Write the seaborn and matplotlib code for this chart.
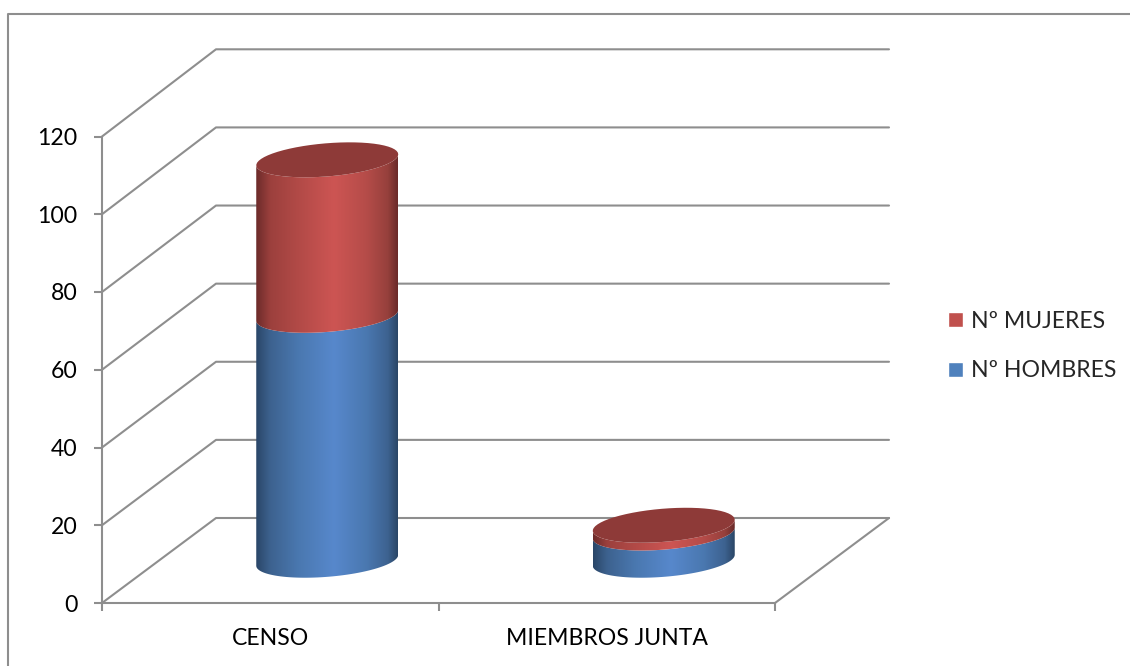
import numpy as np
import pandas as pd
import matplotlib
matplotlib.use("Agg")
import matplotlib.pyplot as plt
from matplotlib.colors import LinearSegmentedColormap
from matplotlib.lines import Line2D
from matplotlib.patches import Patch, PathPatch
from matplotlib.path import Path
import seaborn as sns

categorias = ["CENSO", "MIEMBROS JUNTA"]
hombres = [63, 7]
mujeres = [40, 2]
y_ticks = [0, 20, 40, 60, 80, 100, 120]

sns.set_theme(style="white")
plt.rcParams["font.family"] = ["Lato", "DejaVu Sans"]

GRIS = "#8e8e8e"
ROJO = "#c0504d"
AZUL = "#4f81bd"
TAPA = "#8e3a38"
LW = 1.5
FS = 16.6

# profundidad del falso 3D, en unidades de datos
PX_Y = 466.5 / 120
DEPTH_X = 114 / 336.5
DEPTH_Y = 85 / PX_Y
BACK_SCALE = 468.7 / 466.5
BASE_X = DEPTH_X / 2
BASE_Y = 11
ELIPSE_B = 16.6 / PX_Y
ELIPSE_S = 5.5 / PX_Y

cmap_azul = LinearSegmentedColormap.from_list("azul", [
    (0, "#2a4668"), (0.1, "#3d628f"), (0.3, "#4a78b0"), (0.55, "#5788cc"),
    (0.78, "#4a78b0"), (0.93, "#3d6290"), (1, "#2a4666")])
cmap_rojo = LinearSegmentedColormap.from_list("rojo", [
    (0, "#6c2b2a"), (0.1, "#9c403d"), (0.3, "#b24a47"), (0.55, "#cd5553"),
    (0.78, "#b54c49"), (0.93, "#96403c"), (1, "#6a2a29")])


def arco(cx, y, ancho, t0, t1):
    t = np.linspace(t0, t1, 60)
    return np.column_stack([
        cx + ancho / 2 * np.cos(t),
        y + ELIPSE_B * np.sin(t) + ELIPSE_S * np.cos(t),
    ])


def tramo(ax, cx, ancho, y0, y1, cmap):
    # cuerpo del cilindro: degradado recortado con la silueta
    abajo = arco(cx, y0, ancho, np.pi, 2 * np.pi)
    arriba = arco(cx, y1, ancho, 2 * np.pi, np.pi)
    pts = np.vstack([abajo, arriba, abajo[:1]])
    grad = np.linspace(0, 1, 256).reshape(1, -1)
    im = ax.imshow(grad, cmap=cmap, aspect="auto", zorder=3,
                   extent=[cx - ancho / 2, cx + ancho / 2, y0 - 10, y1 + 10])
    im.set_clip_path(Path(pts), ax.transData)


def fondo(ax):
    for y in y_ticks:
        atras = y * BACK_SCALE + DEPTH_Y
        ax.plot([-0.5, -0.5 + DEPTH_X, 1.5 + DEPTH_X], [y, atras, atras],
                color=GRIS, lw=LW, clip_on=False, zorder=1)
    ax.plot([1.5, 1.5 + DEPTH_X], [0, DEPTH_Y],
            color=GRIS, lw=LW, clip_on=False, zorder=1)


fig = plt.figure(figsize=(11.3, 6.66), dpi=100)
ax = fig.add_axes([102 / 1130, 63 / 666, 673 / 1130, 466.5 / 666])

totales = pd.Series(hombres) + pd.Series(mujeres)
sns.barplot(x=categorias, y=totales, width=142 / 336.5, ax=ax)
sns.barplot(x=categorias, y=hombres, width=142 / 336.5, ax=ax)
barras = list(ax.patches)
n = len(categorias)

for tot, hom in zip(barras[:n], barras[n:]):
    ancho = tot.get_width()
    cx = tot.get_x() + ancho / 2 + BASE_X
    tot.set_visible(False)
    hom.set_visible(False)
    tramo(ax, cx, ancho, BASE_Y, BASE_Y + hom.get_height(), cmap_azul)
    tramo(ax, cx, ancho, BASE_Y + hom.get_height(), BASE_Y + tot.get_height(), cmap_rojo)
    tapa = arco(cx, BASE_Y + tot.get_height(), ancho, 0, 2 * np.pi)
    ax.add_patch(PathPatch(Path(tapa), facecolor=TAPA, edgecolor="none", zorder=4))

fondo(ax)

ax.set_xlim(-0.5, 1.5)
ax.set_ylim(0, 120)
ax.set_xlabel("")
ax.set_ylabel("")
ax.set_yticks(y_ticks)
ax.set_xticks([-0.5, 0.5, 1.5])
ax.set_xticklabels([])
ax.set_xticks([0, 1], labels=categorias, minor=True)
ax.tick_params(axis="y", left=True, length=5.5, width=LW, color=GRIS, pad=12,
               labelsize=FS, labelcolor="black")
ax.tick_params(axis="x", which="major", bottom=True, length=6, width=LW, color=GRIS)
ax.tick_params(axis="x", which="minor", bottom=False, length=0, pad=18,
               labelsize=FS, labelcolor="black")
sns.despine(ax=ax, top=True, right=True)
for lado in ["left", "bottom"]:
    ax.spines[lado].set_color(GRIS)
    ax.spines[lado].set_linewidth(LW)
    ax.spines[lado].set_zorder(2)
ax.patch.set_alpha(0)

handles = [Patch(facecolor=ROJO, label="Nº MUJERES"), Patch(facecolor=AZUL, label="Nº HOMBRES")]
fig.legend(handles=handles, loc="center left", bbox_to_anchor=(948 / 1130, 1 - 346 / 666),
           frameon=False, fontsize=FS, borderpad=0, borderaxespad=0,
           handlelength=0.65, handleheight=0.65, handletextpad=0.36, labelspacing=1.25)

# marco exterior del grafico
fig.add_artist(Line2D([7.5 / 1130, 7.5 / 1130, 1], [0, 1 - 13.5 / 666, 1 - 13.5 / 666],
                      color=GRIS, lw=LW))

fig.savefig("out.png", dpi=100)
